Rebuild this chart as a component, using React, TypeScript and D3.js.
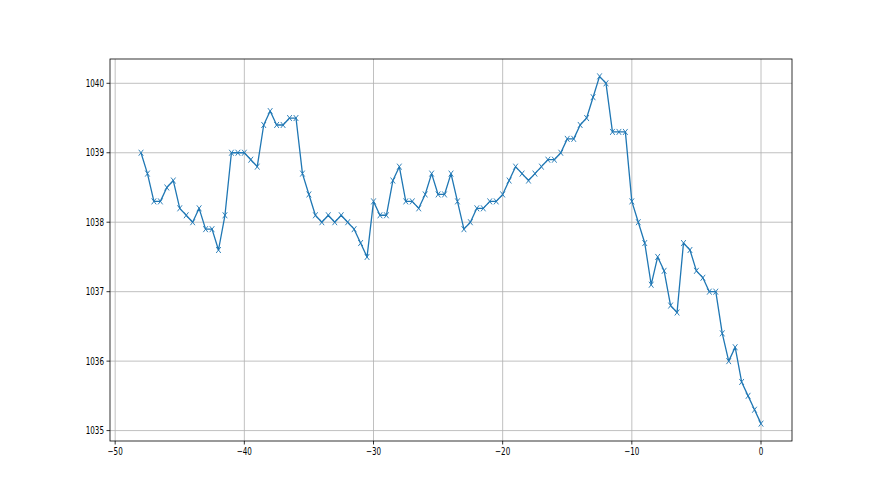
import { useEffect, useRef } from "react";
import * as d3 from "d3";

// time offsets (x) and readings (y)
const xs = [
  -48, -47.5, -47, -46.5, -46, -45.5, -45, -44.5, -44, -43.5, -43, -42.5, -42, -41.5, -41, -40.5,
  -40, -39.5, -39, -38.5, -38, -37.5, -37, -36.5, -36, -35.5, -35, -34.5, -34, -33.5, -33, -32.5,
  -32, -31.5, -31, -30.5, -30, -29.5, -29, -28.5, -28, -27.5, -27, -26.5, -26, -25.5, -25, -24.5,
  -24, -23.5, -23, -22.5, -22, -21.5, -21, -20.5, -20, -19.5, -19, -18.5, -18, -17.5, -17, -16.5,
  -16, -15.5, -15, -14.5, -14, -13.5, -13, -12.5, -12, -11.5, -11, -10.5, -10, -9.5, -9, -8.5,
  -8, -7.5, -7, -6.5, -6, -5.5, -5, -4.5, -4, -3.5, -3, -2.5, -2, -1.5, -1, -0.5, 0,
];

const ys = [
  1039.0, 1038.7, 1038.3, 1038.3, 1038.5, 1038.6, 1038.2, 1038.1, 1038.0, 1038.2, 1037.9, 1037.9,
  1037.6, 1038.1, 1039.0, 1039.0, 1039.0, 1038.9, 1038.8, 1039.4, 1039.6, 1039.4, 1039.4, 1039.5,
  1039.5, 1038.7, 1038.4, 1038.1, 1038.0, 1038.1, 1038.0, 1038.1, 1038.0, 1037.9, 1037.7, 1037.5,
  1038.3, 1038.1, 1038.1, 1038.6, 1038.8, 1038.3, 1038.3, 1038.2, 1038.4, 1038.7, 1038.4, 1038.4,
  1038.7, 1038.3, 1037.9, 1038.0, 1038.2, 1038.2, 1038.3, 1038.3, 1038.4, 1038.6, 1038.8, 1038.7,
  1038.6, 1038.7, 1038.8, 1038.9, 1038.9, 1039.0, 1039.2, 1039.2, 1039.4, 1039.5, 1039.8, 1040.1,
  1040.0, 1039.3, 1039.3, 1039.3, 1038.3, 1038.0, 1037.7, 1037.1, 1037.5, 1037.3, 1036.8, 1036.7,
  1037.7, 1037.6, 1037.3, 1037.2, 1037.0, 1037.0, 1036.4, 1036.0, 1036.2, 1035.7, 1035.5, 1035.3,
  1035.1,
];

const xTicks = [-50, -40, -30, -20, -10, 0];
const yTicks = [1035, 1036, 1037, 1038, 1039, 1040];

export default function App() {
  const svgRef = useRef<SVGSVGElement | null>(null);

  useEffect(() => {
    const width = 880;
    const height = 495;
    const m = { left: 110, right: 88, top: 59, bottom: 54 };
    const sx = 0.72; // the picture is squeezed horizontally

    const svg = d3.select(svgRef.current);
    svg.selectAll("*").remove();
    svg.attr("width", width).attr("height", height);

    const data = xs.map((x, i) => ({ x, y: ys[i] }));

    const x = d3.scaleLinear().domain([-50.4, 2.4]).range([m.left, width - m.right]);
    const y = d3.scaleLinear().domain([1034.85, 1040.35]).range([height - m.bottom, m.top]);

    // grid
    svg
      .append("g")
      .selectAll("line")
      .data(xTicks)
      .join("line")
      .attr("x1", (d) => x(d))
      .attr("x2", (d) => x(d))
      .attr("y1", m.top)
      .attr("y2", height - m.bottom)
      .attr("stroke", "#b0b0b0")
      .attr("stroke-width", 0.8);
    svg
      .append("g")
      .selectAll("line")
      .data(yTicks)
      .join("line")
      .attr("x1", m.left)
      .attr("x2", width - m.right)
      .attr("y1", (d) => y(d))
      .attr("y2", (d) => y(d))
      .attr("stroke", "#b0b0b0")
      .attr("stroke-width", 0.8);

    // line
    const line = d3
      .line<{ x: number; y: number }>()
      .x((d) => x(d.x))
      .y((d) => y(d.y));
    svg
      .append("path")
      .datum(data)
      .attr("d", line)
      .attr("fill", "none")
      .attr("stroke", "#1f77b4")
      .attr("stroke-width", 1.3)
      .attr("stroke-linejoin", "round");

    // x markers
    const hw = 2.3;
    const hh = 3;
    svg
      .append("g")
      .selectAll("path")
      .data(data)
      .join("path")
      .attr(
        "d",
        (d) =>
          `M${x(d.x) - hw},${y(d.y) - hh}L${x(d.x) + hw},${y(d.y) + hh}M${x(d.x) - hw},${y(d.y) + hh}L${x(d.x) + hw},${y(d.y) - hh}`
      )
      .attr("stroke", "#1f77b4")
      .attr("stroke-width", 0.9)
      .attr("fill", "none");

    // ticks
    const fmt = (v: number) => String(v).replace("-", "\u2212");
    svg
      .append("g")
      .selectAll("line")
      .data(xTicks)
      .join("line")
      .attr("x1", (d) => x(d))
      .attr("x2", (d) => x(d))
      .attr("y1", height - m.bottom)
      .attr("y2", height - m.bottom + 3.5)
      .attr("stroke", "#000")
      .attr("stroke-width", 0.8);
    svg
      .append("g")
      .selectAll("line")
      .data(yTicks)
      .join("line")
      .attr("x1", m.left - 3.5)
      .attr("x2", m.left)
      .attr("y1", (d) => y(d))
      .attr("y2", (d) => y(d))
      .attr("stroke", "#000")
      .attr("stroke-width", 0.8);

    svg
      .append("g")
      .selectAll("text")
      .data(xTicks)
      .join("text")
      .attr("transform", (d) => `translate(${x(d)},${height - m.bottom + 14}) scale(${sx},1)`)
      .attr("text-anchor", "middle")
      .style("font-family", "DejaVu Sans")
      .style("font-size", "10px")
      .attr("fill", "#000")
      .text((d) => fmt(d));
    svg
      .append("g")
      .selectAll("text")
      .data(yTicks)
      .join("text")
      .attr("transform", (d) => `translate(${m.left - 6},${y(d) + 3.6}) scale(${sx},1)`)
      .attr("text-anchor", "end")
      .style("font-family", "DejaVu Sans")
      .style("font-size", "10px")
      .attr("fill", "#000")
      .text((d) => fmt(d));

    // frame
    svg
      .append("rect")
      .attr("x", m.left)
      .attr("y", m.top)
      .attr("width", width - m.left - m.right)
      .attr("height", height - m.top - m.bottom)
      .attr("fill", "none")
      .attr("stroke", "#000")
      .attr("stroke-width", 0.8);
  }, []);

  return (
    <svg
      ref={svgRef}
      style={{ position: "absolute", left: 0, top: 0, background: "#fff" }}
    ></svg>
  );
}
